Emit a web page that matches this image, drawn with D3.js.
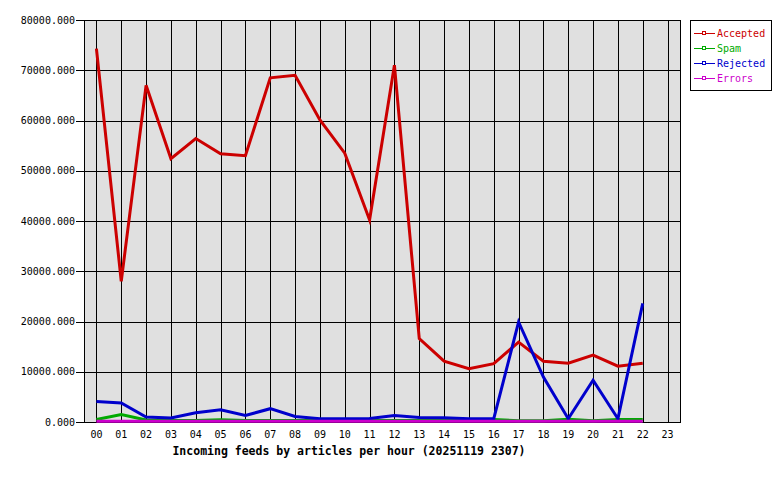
<!DOCTYPE html>
<meta charset="utf-8">
<style>
body { margin: 0; background: #fff; }
text { font-family: "DejaVu Sans Mono", "Liberation Mono", monospace; }
.grid line { stroke: #000; stroke-width: 1; shape-rendering: crispEdges; }
</style>
<svg width="780" height="480"></svg>
<script src="https://d3js.org/d3.v7.min.js"></script>
<script>

var hours = ["00","01","02","03","04","05","06","07","08","09","10","11",
             "12","13","14","15","16","17","18","19","20","21","22","23"];

var accepted = [74300, 28000, 67000, 52400, 56400, 53400, 53000, 68500, 69000, 60100, 53500, 40200,
                71000, 16600, 12100, 10600, 11600, 15900, 12100, 11700, 13300, 11100, 11700];
var spam     = [500, 1500, 400, 300, 300, 450, 300, 300, 300, 300, 300, 300,
                300, 300, 300, 300, 500, 250, 250, 550, 250, 500, 500];
var rejected = [4100, 3800, 1000, 800, 1850, 2450, 1300, 2650, 1100, 650, 650, 700,
                1300, 900, 850, 650, 650, 19900, 8950, 650, 8300, 650, 23600];
var errors   = [150, 150, 150, 150, 150, 150, 150, 150, 150, 150, 150, 150,
                150, 150, 150, 150, 150, 150, 150, 150, 150, 150, 150];

var yTicks = [0, 10000, 20000, 30000, 40000, 50000, 60000, 70000, 80000];

var series = [
  {name: "Accepted", color: "#cc0000", values: accepted},
  {name: "Spam",     color: "#00aa00", values: spam},
  {name: "Rejected", color: "#0000cc", values: rejected},
  {name: "Errors",   color: "#cc00cc", values: errors}
];

var svg = d3.select("svg"),
    margin = {top: 20, right: 100, bottom: 58, left: 84},
    width = +svg.attr("width") - margin.left - margin.right,
    height = +svg.attr("height") - margin.top - margin.bottom;

var x = d3.scalePoint().domain(hours).range([0, width]).padding(0.5);
var y = d3.scaleLinear().domain([0, 80000]).range([height, 0]);

var g = svg.append("g").attr("transform", "translate(" + margin.left + "," + margin.top + ")");

g.append("rect")
    .attr("width", width)
    .attr("height", height)
    .attr("fill", "#e0e0e0");

var grid = g.append("g").attr("class", "grid");
grid.selectAll("line.v")
  .data(hours)
  .enter().append("line")
    .attr("class", "v")
    .attr("x1", function(d) { return Math.round(x(d)) + 0.5; })
    .attr("x2", function(d) { return Math.round(x(d)) + 0.5; })
    .attr("y1", 0)
    .attr("y2", height);
grid.selectAll("line.h")
  .data(yTicks)
  .enter().append("line")
    .attr("class", "h")
    .attr("x1", -8)
    .attr("x2", width)
    .attr("y1", function(d) { return Math.round(y(d)) + 0.5; })
    .attr("y2", function(d) { return Math.round(y(d)) + 0.5; });

// frame
grid.append("line").attr("x1", 0.5).attr("x2", 0.5).attr("y1", 0).attr("y2", height);
grid.append("line").attr("x1", width + 0.5).attr("x2", width + 0.5).attr("y1", 0).attr("y2", height + 0.5);

g.selectAll("text.ylab")
  .data(yTicks)
  .enter().append("text")
    .attr("class", "ylab")
    .attr("x", -9)
    .attr("y", function(d) { return y(d); })
    .attr("dy", "0.35em")
    .attr("text-anchor", "end")
    .attr("font-size", 10)
    .text(function(d) { return d3.format(".3f")(d); });

g.selectAll("text.xlab")
  .data(hours)
  .enter().append("text")
    .attr("class", "xlab")
    .attr("x", function(d) { return x(d); })
    .attr("y", height + 16)
    .attr("text-anchor", "middle")
    .attr("font-size", 10)
    .text(function(d) { return d; });

g.append("text")
    .attr("x", 265)
    .attr("y", height + 33)
    .attr("text-anchor", "middle")
    .attr("font-size", 11.5)
    .attr("font-weight", "bold")
    .text("Incoming feeds by articles per hour (20251119 2307)");

var line = d3.line()
    .x(function(d, i) { return x(hours[i]); })
    .y(function(d) { return y(d); });

g.selectAll("path.series")
  .data(series)
  .enter().append("path")
    .attr("class", "series")
    .attr("fill", "none")
    .attr("stroke", function(d) { return d.color; })
    .attr("stroke-width", 3)
    .attr("d", function(d) { return line(d.values); });

// legend
var legend = svg.append("g").attr("transform", "translate(690,20)");
legend.append("rect")
    .attr("x", 0.5).attr("y", 0.5)
    .attr("width", 81).attr("height", 70)
    .attr("fill", "#fff")
    .attr("stroke", "#000")
    .attr("shape-rendering", "crispEdges");

var item = legend.selectAll("g.item")
  .data(series)
  .enter().append("g")
    .attr("class", "item")
    .attr("transform", function(d, i) { return "translate(0," + (13.5 + i * 15) + ")"; });
item.append("line")
    .attr("x1", 4).attr("x2", 25)
    .attr("stroke", function(d) { return d.color; })
    .attr("shape-rendering", "crispEdges");
item.append("rect")
    .attr("x", 12).attr("y", -2)
    .attr("width", 3).attr("height", 3)
    .attr("fill", "#fff")
    .attr("stroke", function(d) { return d.color; })
    .attr("shape-rendering", "crispEdges");
item.append("text")
    .attr("x", 27)
    .attr("dy", "0.35em")
    .attr("font-size", 10)
    .attr("fill", function(d) { return d.color; })
    .text(function(d) { return d.name; });

</script>
